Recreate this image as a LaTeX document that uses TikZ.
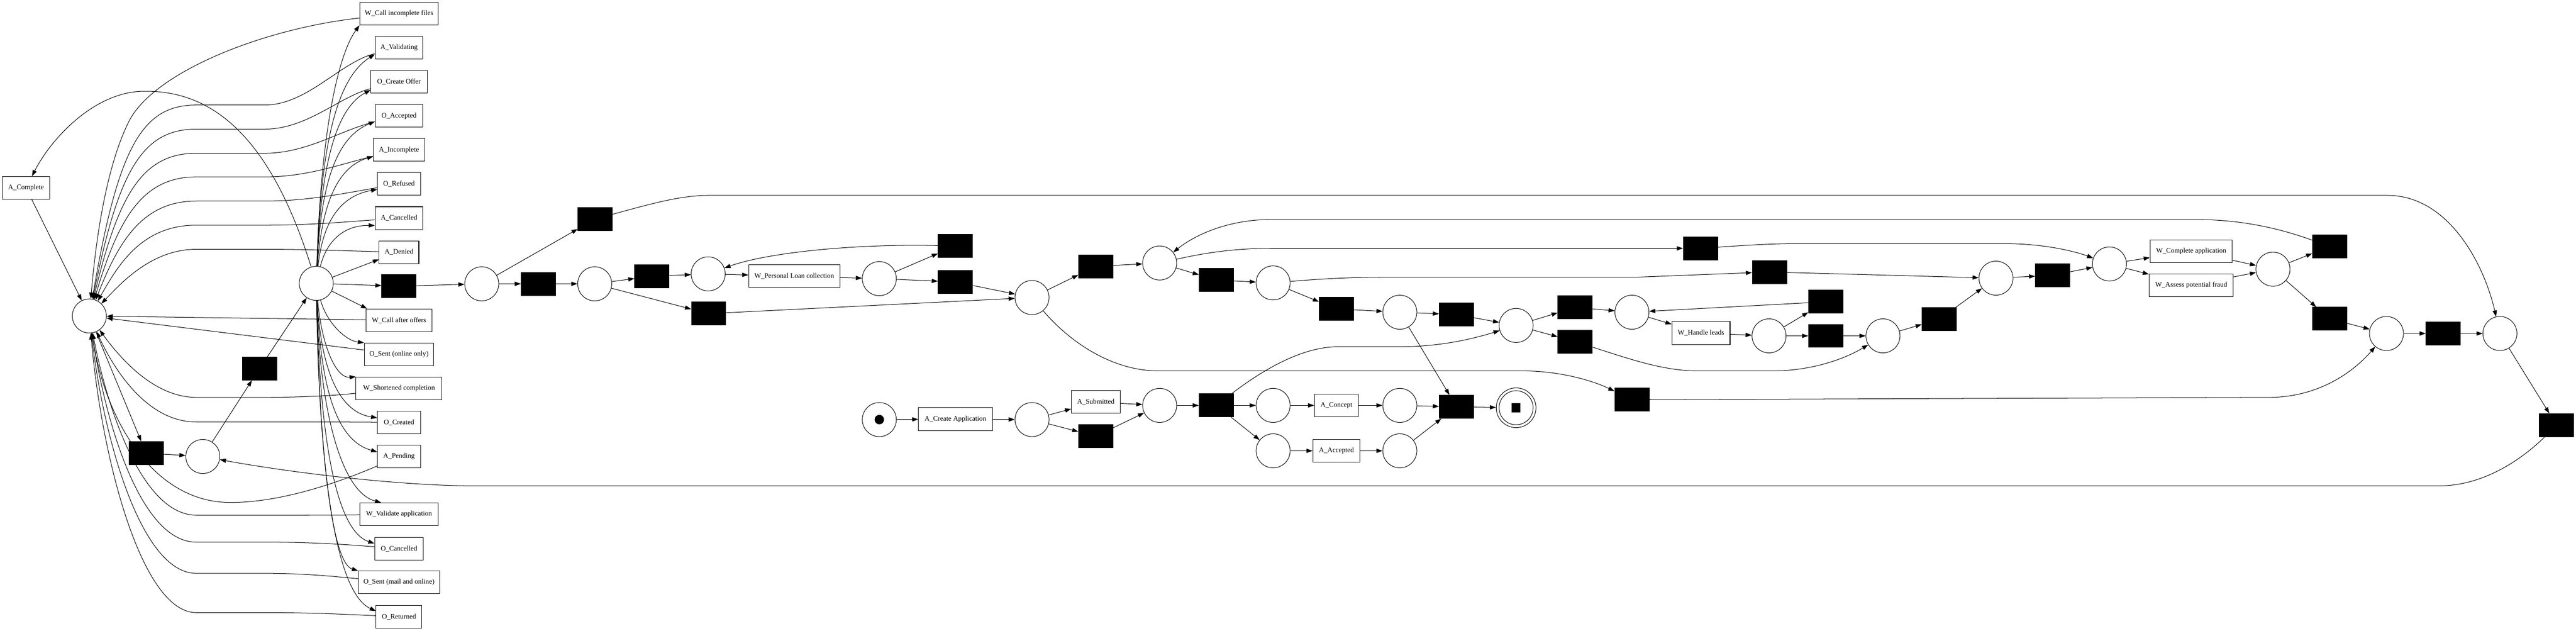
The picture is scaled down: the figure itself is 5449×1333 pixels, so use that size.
\documentclass[tikz,border=0pt]{standalone}
\usepackage{fontspec}
\setmainfont{Liberation Serif}
\usetikzlibrary{arrows.meta}
\begin{document}
\begin{tikzpicture}[x=1pt,y=-1pt,
  pn/.style={circle,draw,line width=1.1pt,minimum size=72pt,inner sep=0pt},
  tn/.style={rectangle,draw,line width=1.1pt,minimum height=48pt,inner sep=0pt,font=\fontsize{14.8}{16}\selectfont},
  bn/.style={rectangle,draw,fill=black,line width=1.1pt,minimum width=73pt,minimum height=49pt,inner sep=0pt},
  fl/.style={-{Triangle[length=13pt,width=9pt]},line width=1.1pt}]
\useasboundingbox (0,0) rectangle (5449,1333);
\fill[white] (0,0) rectangle (5449,1333);
% ---------- left part ----------
\node[tn,minimum width=100pt] (aCom) at (55,397) {A\_Complete};
\node[pn] (L0) at (189,668) {};
\node[pn] (hub) at (669,599) {};
\node[tn,minimum width=166pt] (wcif) at (844,29) {W\_Call incomplete files};
\node[tn,minimum width=101pt] (vA) at (844,101) {A\_Validating};
\node[tn,minimum width=119pt] (oCO) at (844,173) {O\_Create Offer};
\node[tn,minimum width=101pt] (oAcc) at (844,245) {O\_Accepted};
\node[tn,minimum width=108pt] (aInc) at (844,317) {A\_Incomplete};
\node[tn,minimum width=91pt] (oRef) at (844,389) {O\_Refused};
\node[tn,minimum width=101pt] (aCan) at (844,461) {A\_Cancelled};
\node[tn,minimum width=84pt] (aDen) at (844,533) {A\_Denied};
\node[bn] (tH) at (844,605) {};
\node[tn,minimum width=139pt] (wcao) at (844,677) {W\_Call after offers};
\node[tn,minimum width=147pt] (oSol) at (844,749) {O\_Sent (online only)};
\node[tn,minimum width=182pt] (wSc) at (844,821) {W\_Shortened completion};
\node[tn,minimum width=91pt] (oCr) at (844,893) {O\_Created};
\node[tn,minimum width=91pt] (aPen) at (844,965) {A\_Pending};
\node[tn,minimum width=165pt] (wVa) at (844,1087) {W\_Validate application};
\node[tn,minimum width=103pt] (oCan) at (844,1160) {O\_Cancelled};
\node[tn,minimum width=172pt] (oSma) at (844,1231) {O\_Sent (mail and online)};
\node[tn,minimum width=97pt] (oRet) at (844,1304) {O\_Returned};
\node[bn] (tL1) at (309,958) {};
\node[pn] (pL1) at (429,965) {};
\node[bn] (tL2) at (549,779) {};
% ---------- middle ----------
\node[pn] (pA) at (1019,600) {};
\node[bn] (tA1) at (1259,463) {};
\node[bn] (tA2) at (1139,600) {};
\node[pn] (pB) at (1258,600) {};
\node[bn] (tB1) at (1379,584) {};
\node[bn] (tB2) at (1499,663) {};
\node[pn] (pC) at (1498,579) {};
\node[tn,minimum width=193pt] (wpl) at (1680,584) {W\_Personal Loan collection};
\node[pn] (pD) at (1860,589) {};
\node[bn] (tD1) at (2021,520) {};
\node[bn] (tD2) at (2021,596) {};
\node[pn] (pE) at (2183,629) {};
\node[bn] (tE1) at (2318,563) {};
\node[pn] (pG) at (2453,556) {};
\node[bn] (tG1) at (2573,592) {};
\node[pn] (pH) at (2693,598) {};
\node[bn] (tH1) at (2827,653) {};
\node[pn] (pI) at (2961,660) {};
\node[bn] (tI1) at (3081,665) {};
\node[pn] (pP) at (3207,688) {};
\node[bn] (tP1) at (3332,650) {};
\node[bn] (tP2) at (3332,722) {};
\node[pn] (pQ) at (3452,660) {};
\node[tn,minimum width=123pt] (whl) at (3598,704) {W\_Handle leads};
\node[pn] (pR) at (3742,710) {};
\node[bn] (tR1) at (3862,638) {};
\node[bn] (tR2) at (3862,710) {};
\node[pn] (pU) at (3983,710) {};
\node[bn] (tU1) at (4102,675) {};
\node[pn] (pT) at (4222,588) {};
\node[bn] (tT1) at (4342,582) {};
\node[pn] (pS) at (4462,558) {};
\node[bn] (tG2) at (3597,525) {};
\node[bn] (tH2) at (3743,575) {};
\node[tn,minimum width=174pt] (wca) at (4635,531) {W\_Complete application};
\node[tn,minimum width=178pt] (wap) at (4635,603) {W\_Assess potential fraud};
\node[pn] (pV) at (4808,569) {};
\node[bn] (tV1) at (4928,521) {};
\node[bn] (tV2) at (4928,674) {};
\node[pn] (pW) at (5048,705) {};
\node[bn] (tW1) at (5168,705) {};
\node[pn] (pX) at (5288,705) {};
\node[bn] (tX1) at (5408,899) {};
\node[bn] (tE2) at (3452,845) {};
% ---------- bottom ----------
\node[pn] (pStart) at (1860,887) {};
\node[circle,fill=black,minimum size=20pt,inner sep=0pt] (tok) at (pStart) {};
\node[tn,minimum width=156pt] (aca) at (2021,886) {A\_Create Application};
\node[pn] (pF) at (2183,887) {};
\node[tn,minimum width=103pt] (asub) at (2318,850) {A\_Submitted};
\node[bn] (tF2) at (2318,922) {};
\node[pn] (pJ) at (2453,857) {};
\node[bn] (tK) at (2573,857) {};
\node[pn] (pL) at (2693,857) {};
\node[tn,minimum width=93pt] (acon) at (2827,857) {A\_Concept};
\node[pn] (pM) at (2961,857) {};
\node[pn] (pN) at (2693,953) {};
\node[tn,minimum width=100pt] (aacc) at (2827,953) {A\_Accepted};
\node[pn] (pO) at (2961,953) {};
\node[bn] (tEnd) at (3081,860) {};
\node[circle,draw,line width=1.1pt,minimum size=84pt,inner sep=0pt] (pEnd) at (3207,862) {};
\node[pn] (pEndI) at (pEnd) {};
\node[rectangle,fill=black,minimum size=19pt,inner sep=0pt] (endsq) at (pEnd) {};
% ---------- left edges ----------
\draw[fl] (hub) .. controls (560,250) and (420,190) .. (300,193) .. controls (200,196) and (110,290) .. (aCom);
\draw[fl] (aCom) -- (L0);
\draw[fl] (wcif) .. controls (560,60) and (330,150) .. (274,254) .. controls (230,340) and (205,480) .. (L0);
\draw[fl] (hub) .. controls (678,296) and (712,120) .. (wcif.south west);
\draw[fl] (hub) .. controls (678,332) and (705,170) .. (vA.195);
\draw[fl] (hub) .. controls (678,368) and (705,232) .. (oCO.196);
\draw[fl] (hub) .. controls (678,404) and (705,293) .. (oAcc.193);
\draw[fl] (hub) .. controls (680,440) and (710,354) .. (aInc.194);
\draw[fl] (hub) .. controls (682,476) and (715,415) .. (oRef.194);
\draw[fl] (hub) .. controls (690,512) and (725,476) .. (aCan.197);
\draw[fl] (hub) -- (aDen.200);
\draw[fl] (hub) -- (wcao.160);
\draw[fl] (hub) .. controls (690,680) and (730,720) .. (oSol.north west);
\draw[fl] (hub) .. controls (680,728) and (710,800) .. (wSc.north west);
\draw[fl] (hub) .. controls (678,764) and (710,870) .. (oCr.168);
\draw[fl] (hub) .. controls (678,800) and (705,930) .. (aPen.168);
\draw[fl] (hub) .. controls (676,861) and (720,1040) .. (wVa.147);
\draw[fl] (hub) .. controls (676,897) and (705,1120) .. (oCan.168);
\draw[fl] (hub) .. controls (675,933) and (700,1190) .. (oSma.north west);
\draw[fl] (hub) .. controls (675,970) and (705,1250) .. (oRet.166);
\draw[fl] (vA) .. controls (720,131) and (650,222) .. (560,222) -- (415,222) .. controls (300,222) and (250,312) .. (L0);
\draw[fl] (oCO) .. controls (720,203) and (650,273) .. (560,273) -- (415,273) .. controls (300,273) and (250,363) .. (L0);
\draw[fl] (oAcc) .. controls (720,275) and (650,324) .. (560,324) -- (415,324) .. controls (300,324) and (250,414) .. (L0);
\draw[fl] (aInc) .. controls (720,347) and (650,374) .. (560,374) -- (415,374) .. controls (300,374) and (250,464) .. (L0);
\draw[fl] (oRef) .. controls (720,410) and (650,425) .. (560,425) -- (415,425) .. controls (300,425) and (250,513) .. (L0);
\draw[fl] (aCan) .. controls (720,470) and (650,476) .. (560,476) -- (415,476) .. controls (300,476) and (250,560) .. (L0);
\draw[fl] (aDen) .. controls (720,530) and (650,527) .. (560,527) -- (415,527) .. controls (320,527) and (255,600) .. (L0);
\draw[fl] (wcao) -- (L0);
\draw[fl] (oSol) -- (L0);
\draw[fl] (wSc) .. controls (720,835) and (650,840) .. (560,840) -- (415,840) .. controls (330,840) and (260,765) .. (L0);
\draw[fl] (oCr) .. controls (720,892) and (650,892) .. (560,892) -- (415,892) .. controls (315,892) and (245,789) .. (L0);
\draw[fl] (aPen) .. controls (740,1010) and (600,1065) .. (480,1062) .. controls (330,1058) and (225,900) .. (L0);
\draw[fl] (wVa) .. controls (720,1089) and (650,1089) .. (560,1089) -- (415,1089) .. controls (305,1089) and (230,878) .. (L0);
\draw[fl] (oCan) .. controls (720,1150) and (650,1146) .. (560,1146) -- (415,1146) .. controls (300,1146) and (225,903) .. (L0);
\draw[fl] (oSma) .. controls (720,1220) and (650,1212) .. (560,1212) -- (415,1212) .. controls (300,1212) and (220,933) .. (L0);
\draw[fl] (oRet) .. controls (720,1298) and (650,1295) .. (560,1295) -- (415,1295) .. controls (300,1295) and (215,970) .. (L0);
\draw[fl] (L0) -- (tL1);
\draw[fl] (tL1) -- (pL1);
\draw[fl] (pL1) -- (tL2);
\draw[fl] (tL2) -- (hub);
% ---------- middle edges ----------
\draw[fl] (hub) -- (tH);
\draw[fl] (tH) -- (pA);
\draw[fl] (pA) -- (tA1);
\draw[fl] (pA) -- (tA2);
\draw[fl] (tA2) -- (pB);
\draw[fl] (pB) -- (tB1);
\draw[fl] (pB) -- (tB2);
\draw[fl] (tB1) -- (pC);
\draw[fl] (pC) -- (wpl);
\draw[fl] (wpl) -- (pD);
\draw[fl] (pD) -- (tD1);
\draw[fl] (pD) -- (tD2);
\draw[fl] (tD1) .. controls (1800,515) and (1620,535) .. (pC);
\draw[fl] (tD2) -- (pE);
\draw[fl] (tB2) -- (pE);
\draw[fl] (pE) -- (tE1);
\draw[fl] (tE1) -- (pG);
\draw[fl] (pE) .. controls (2260,720) and (2350,784) .. (2450,784) -- (3220,784) .. controls (3300,784) and (3370,805) .. (tE2);
\draw[fl] (tE2) -- (4800,840) .. controls (4900,840) and (4975,790) .. (pW);
\draw[fl] (tA1) .. controls (1380,430) and (1440,413) .. (1500,413) -- (5050,413) .. controls (5180,413) and (5255,560) .. (pX);
\draw[fl] (pG) -- (tG1);
\draw[fl] (tG1) -- (pH);
\draw[fl] (pG) .. controls (2560,532) and (2620,525) .. (2690,525) -- (tG2);
\draw[fl] (tG2) .. controls (3700,518) and (3750,515) .. (3800,515) -- (4240,515) .. controls (4320,515) and (4385,530) .. (pS);
\draw[fl] (pH) -- (tH1);
\draw[fl] (tH1) -- (pI);
\draw[fl] (pH) .. controls (2800,589) and (2860,586) .. (2930,586) -- (3460,586) -- (tH2);
\draw[fl] (tH2) -- (pT);
\draw[fl] (pI) -- (tI1);
\draw[fl] (tI1) -- (pP);
\draw[fl] (pI) -- (tEnd);
\draw[fl] (pP) -- (tP1);
\draw[fl] (pP) -- (tP2);
\draw[fl] (tP1) -- (pQ);
\draw[fl] (tP2) .. controls (3450,760) and (3520,784) .. (3590,784) -- (3750,784) .. controls (3830,784) and (3900,760) .. (pU);
\draw[fl] (pQ) -- (whl);
\draw[fl] (whl) -- (pR);
\draw[fl] (pR) -- (tR1);
\draw[fl] (pR) -- (tR2);
\draw[fl] (tR1) -- (pQ);
\draw[fl] (tR2) -- (pU);
\draw[fl] (pU) -- (tU1);
\draw[fl] (tU1) -- (pT);
\draw[fl] (pT) -- (tT1);
\draw[fl] (tT1) -- (pS);
\draw[fl] (pS) -- (wca);
\draw[fl] (pS) -- (wap);
\draw[fl] (wca) -- (pV);
\draw[fl] (wap) -- (pV);
\draw[fl] (pV) -- (tV1);
\draw[fl] (pV) -- (tV2);
\draw[fl] (tV1) .. controls (4800,475) and (4720,464) .. (4640,464) -- (2690,464) .. controls (2600,464) and (2530,495) .. (pG);
\draw[fl] (tV2) -- (pW);
\draw[fl] (pW) -- (tW1);
\draw[fl] (tW1) -- (pX);
\draw[fl] (pX) -- (tX1);
\draw[fl] (tX1) .. controls (5330,975) and (5250,1027) .. (5160,1027) -- (1000,1027) .. controls (850,1027) and (620,1000) .. (pL1);
% ---------- bottom edges ----------
\draw[fl] (pStart) -- (aca);
\draw[fl] (aca) -- (pF);
\draw[fl] (pF) -- (asub);
\draw[fl] (pF) -- (tF2);
\draw[fl] (asub) -- (pJ);
\draw[fl] (tF2) -- (pJ);
\draw[fl] (pJ) -- (tK);
\draw[fl] (tK) -- (pL);
\draw[fl] (tK) -- (pN);
\draw[fl] (pL) -- (acon);
\draw[fl] (acon) -- (pM);
\draw[fl] (pM) -- (tEnd);
\draw[fl] (pN) -- (aacc);
\draw[fl] (aacc) -- (pO);
\draw[fl] (pO) -- (tEnd);
\draw[fl] (tEnd) -- (pEnd);
\draw[fl] (tK) .. controls (2680,775) and (2760,733) .. (2830,733) -- (2960,733) .. controls (3050,733) and (3120,715) .. (pP);
\end{tikzpicture}
\end{document}
